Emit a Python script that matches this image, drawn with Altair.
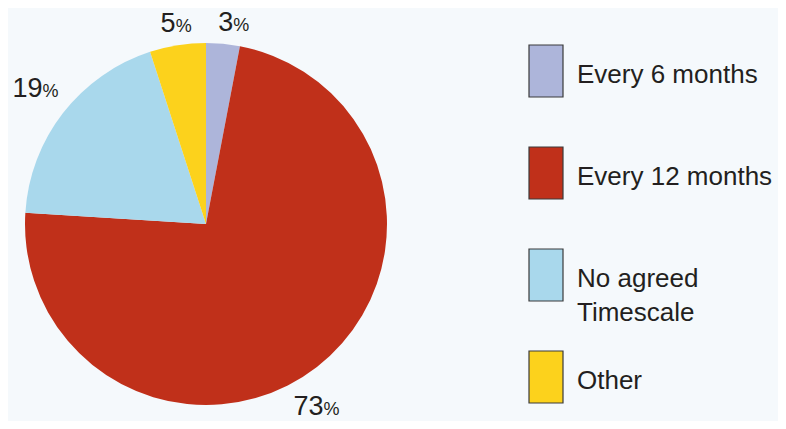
import altair as alt
import pandas as pd

categories = ["Every 6 months", "Every 12 months", "No agreed Timescale", "Other"]
values = [3, 73, 19, 5]
legend_lines = [["Every 6 months"], ["Every 12 months"], ["No agreed", "Timescale"], ["Other"]]
colors = ["#adb5da", "#c0301a", "#a9d8ec", "#fcd21c"]

df = pd.DataFrame({
    "cat": categories,
    "value": values,
    "order": list(range(len(categories))),
    "num": [str(v) for v in values],
})
legend_df = pd.DataFrame({"cat": categories, "lines": legend_lines})

FONT = "Liberation Sans"
TXT = "#231f20"
CX, CY, R = 198, 216, 181

color_scale = alt.Scale(domain=categories, range=colors)

base = alt.Chart(df)

pie = base.mark_arc(radius=R).encode(
    theta=alt.Theta("value:Q", stack=True, scale=alt.Scale(domain=[0, 100], range=[0, 6.283185307])),
    order=alt.Order("order:Q"),
    color=alt.Color("cat:N", scale=color_scale, legend=None),
    x=alt.value(CX),
    y=alt.value(CY),
)

label_base = base.transform_window(
    cum="sum(value)", sort=[alt.SortField("order")], frame=[None, 0]
).transform_calculate(mid="datum.cum - datum.value / 2")

# per-label radius and small offsets (placement as in the original)
label_pos = {
    "Every 6 months": (194, 9, 0),
    "Every 12 months": (231, -24, 8),
    "No agreed Timescale": (207, 0, 0),
    "Other": (194, 0, 0),
}

layers = [pie]
for cat, (rad, ddx, ddy) in label_pos.items():
    sub = label_base.transform_filter(alt.datum.cat == cat)
    enc = dict(
        theta=alt.Theta("mid:Q", stack=False, scale=alt.Scale(domain=[0, 100], range=[0, 6.283185307])),
        x=alt.value(CX),
        y=alt.value(CY),
    )
    layers.append(sub.mark_text(radius=rad, dx=ddx, dy=ddy, align="right", baseline="alphabetic",
                                font=FONT, fontSize=27, color=TXT).encode(text="num:N", **enc))
    layers.append(sub.mark_text(radius=rad, dx=ddx, dy=ddy, align="left", baseline="alphabetic",
                                font=FONT, fontSize=18, color=TXT).encode(text=alt.value("%"), **enc))

ly = alt.Scale(domain=categories, range=[37, 395], paddingInner=0.49, paddingOuter=0)

leg_rect = alt.Chart(legend_df).mark_rect(stroke="#3a3a3a", strokeWidth=1.2).encode(
    y=alt.Y("cat:N", scale=ly, axis=None, sort=categories),
    x=alt.value(521),
    x2=alt.value(555),
    color=alt.Color("cat:N", scale=color_scale, legend=None),
)
leg_text = alt.Chart(legend_df).mark_text(align="left", baseline="alphabetic", dy=12,
                                          font=FONT, fontSize=26, color=TXT, lineHeight=34).encode(
    y=alt.Y("cat:N", scale=ly, axis=None, sort=categories),
    x=alt.value(569),
    text=alt.Text("lines"),
)
layers += [leg_rect, leg_text]

chart = alt.layer(*layers).resolve_scale(theta="independent").properties(
    width=770, height=413, autosize=alt.AutoSizeParams(type="none"), padding=0,
    background="#f5f9fc",
).configure_view(stroke=None)

chart.save("out.html", embed_options={"renderer": "svg", "actions": False})
